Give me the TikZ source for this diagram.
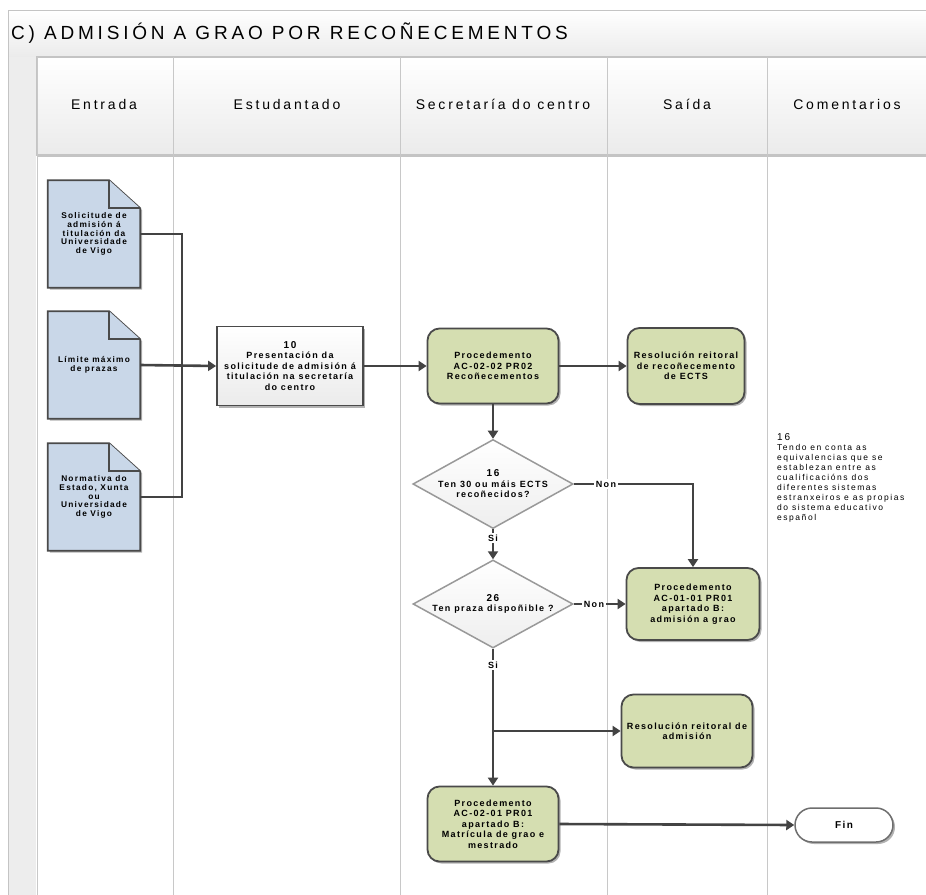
\documentclass[tikz,border=0pt]{standalone}
\usepackage{fontspec}
\setmainfont{Liberation Sans}
\newfontfamily\bxfont{Liberation Sans}[LetterSpace=15]
\newfontfamily\cmfont{Liberation Sans}[LetterSpace=18]
\newfontfamily\hdfont{Liberation Sans}[LetterSpace=20]
\newfontfamily\ttlfont{Liberation Sans}[LetterSpace=20]
\usetikzlibrary{shapes.geometric,arrows.meta,shadows}
\definecolor{docfill}{HTML}{C9D7E8}
\definecolor{greenfill}{HTML}{D5DEB1}
\definecolor{boxborder}{HTML}{4A4A4A}
\definecolor{conncol}{HTML}{434343}
\definecolor{lanegray}{HTML}{C8C8C8}
\definecolor{framegray}{HTML}{C4C4C4}
\definecolor{hdgray}{HTML}{EBEBEB}
\definecolor{stripgray}{HTML}{EDEDED}
\definecolor{diafill}{HTML}{EEEEEE}
\definecolor{diaborder}{HTML}{999999}
\pgfdeclarelayer{frame}
\pgfdeclarelayer{docs}
\pgfsetlayers{frame,docs,main}
\begin{document}
\begin{tikzpicture}[x=1pt,y=-1pt,
  boxtxt/.style={font=\bxfont\bfseries\fontsize{9}{10.5}\selectfont, align=center},
  conn/.style={draw=conncol, line width=2.6pt},
  arr/.style={conn, -{Triangle[length=8pt,width=10pt]}},
  shad/.style={drop shadow={shadow xshift=2pt, shadow yshift=-2pt, fill=black, opacity=0.3}},
  docnode/.style={minimum width=92pt, minimum height=107pt, inner sep=0pt, align=center,
    font=\bxfont\bfseries\fontsize{8.3}{8.8}\selectfont},
  docshape/.style={draw=boxborder, line width=1.8pt, fill=docfill, line join=miter, shad},
  greenbox/.style={boxtxt, draw=boxborder, line width=1.8pt, fill=greenfill, rounded corners=12pt, inner sep=0pt, shad},
  whitebox/.style={boxtxt, draw=boxborder, line width=1.8pt, top color=white, bottom color=hdgray, inner sep=0pt, shad},
  decision/.style={boxtxt, diamond, draw=diaborder, line width=1.5pt, top color=white, bottom color=diafill, inner sep=0pt, aspect=1.8, minimum width=160pt, minimum height=88pt},
  terminal/.style={boxtxt, draw=boxborder!80, line width=1.5pt, fill=white, rounded corners=17pt, minimum width=98pt, minimum height=34pt, inner sep=0pt, shad},
  lbl/.style={boxtxt, fill=white, inner sep=1.5pt},
  hdr/.style={font=\hdfont\fontsize{14}{16}\selectfont}]
\useasboundingbox (0,0) rectangle (926,894);

% ---------- frame ----------
\begin{pgfonlayer}{frame}
  \fill[white] (0,0) rectangle (926,894);
  \draw[draw=framegray, line width=1pt, top color=white, bottom color=hdgray] (8,10) rectangle (945,57);
  \fill[stripgray] (8,57) rectangle (36,900);
  \draw[draw=framegray, line width=1pt] (8,57) -- (8,900);
  \draw[draw=framegray, line width=1.5pt, top color=white, bottom color=hdgray] (37,57) rectangle (945,155);
  \draw[draw=framegray, line width=2pt] (37,156) -- (945,156);
  \foreach \xx in {37,173,400,607,767} \draw[draw=lanegray, line width=1pt] (\xx,57) -- (\xx,900);
\end{pgfonlayer}

% ---------- title and headers ----------
\node[anchor=west, inner sep=0pt, font=\ttlfont\fontsize{19}{19}\selectfont] (title) at (11,33) {C) ADMISIÓN A GRAO POR RECOÑECEMENTOS};
\node[hdr] (h1) at (104,104) {Entrada};
\node[hdr] (h2) at (287,104) {Estudantado};
\node[hdr] (h3) at (503,104) {Secretaría do centro};
\node[hdr] (h4) at (687,104) {Saída};
\node[hdr] (h5) at (847,104) {Comentarios};

% ---------- documents ----------
\node[docnode] (d1) at (94,234) {Solicitude de\\admisión á\\titulación da\\Universidade\\de Vigo};
\node[docnode] (d2) at (94,365) {Límite máximo\\de prazas};
\node[docnode] (d3) at (94,497) {Normativa do\\Estado, Xunta\\ou\\Universidade\\de Vigo};
\begin{pgfonlayer}{docs}
  \foreach \dd in {d1,d2,d3} {
    \draw[docshape] (\dd.north west) -- ([xshift=-31pt]\dd.north east) -- ([yshift=-28pt]\dd.north east)
      -- (\dd.south east) -- (\dd.south west) -- cycle;
    \draw[draw=boxborder, line width=1.8pt, fill=docfill, line join=miter]
      ([xshift=-31pt]\dd.north east) -- ([xshift=-31pt,yshift=-28pt]\dd.north east) -- ([yshift=-28pt]\dd.north east);
  }
\end{pgfonlayer}

% ---------- process nodes ----------
\node[whitebox, minimum width=146pt, minimum height=79pt] (b10) at (290,366)
  {{\fontsize{10}{11}\selectfont 10}\\Presentación da\\solicitude de admisión á\\titulación na secretaría\\do centro};
\node[greenbox, minimum width=131pt, minimum height=75pt] (p1) at (493,366)
  {Procedemento\\AC-02-02 PR02\\Recoñecementos};
\node[greenbox, minimum width=117pt, minimum height=76pt] (r1) at (686,366)
  {Resolución reitoral\\de recoñecemento\\de ECTS};
\node[decision] (dm1) at (493,484) {{\fontsize{10}{11}\selectfont 16}\\Ten 30 ou máis ECTS\\recoñecidos?};
\node[decision] (dm2) at (493,604) {{\fontsize{10}{11}\selectfont 26}\\Ten praza dispoñible ?};
\node[greenbox, minimum width=133pt, minimum height=72pt] (p2) at (693,604)
  {Procedemento\\AC-01-01 PR01\\apartado B:\\admisión a grao};
\node[greenbox, minimum width=131pt, minimum height=73pt] (r2) at (687,731)
  {Resolución reitoral de\\admisión};
\node[greenbox, minimum width=131pt, minimum height=75pt] (p3) at (493,824)
  {Procedemento\\AC-02-01 PR01\\apartado B:\\Matrícula de grao e\\mestrado};
\node[terminal, font=\bxfont\bfseries\fontsize{10}{11}\selectfont] (fin) at (844,825) {Fin};

% ---------- comment ----------
\node[anchor=north west, inner sep=0pt, align=left, font=\cmfont\fontsize{8.5}{10}\selectfont] (c16) at (777,433)
  {{\fontsize{10}{11}\selectfont 16}\\Tendo en conta as\\equivalencias que se\\establezan entre as\\cualificacións dos\\diferentes sistemas\\estranxeiros e as propias\\do sistema educativo\\español};

% ---------- connectors ----------
\coordinate (j) at (182,365);
\draw[conn] (d1.east) -| (j);
\draw[conn, line width=1.3pt] (d3.east) -| (j);
\draw[arr] (d2.east) -- (b10.west);
\draw[arr] (b10.east) -- (p1.west);
\draw[arr] (p1.east) -- (r1.west);
\draw[arr] (p1.south) -- (dm1.north);
\draw[arr] (dm1.east) -| (p2.north);
\node[lbl] (non1) at (606,484) {Non};
\draw[arr] (dm1.south) -- (dm2.north);
\node[lbl] (si1) at (493,538) {Si};
\draw[arr] (dm2.east) -- (p2.west);
\node[lbl] (non2) at (594,604) {Non};
\draw[arr] (dm2.south) -- (p3.north);
\node[lbl] (si2) at (493,665) {Si};
\coordinate (br) at (493,731);
\draw[arr] (br) -- (r2.west);
\draw[arr] (p3.east) -- (fin.west);
\end{tikzpicture}
\end{document}
